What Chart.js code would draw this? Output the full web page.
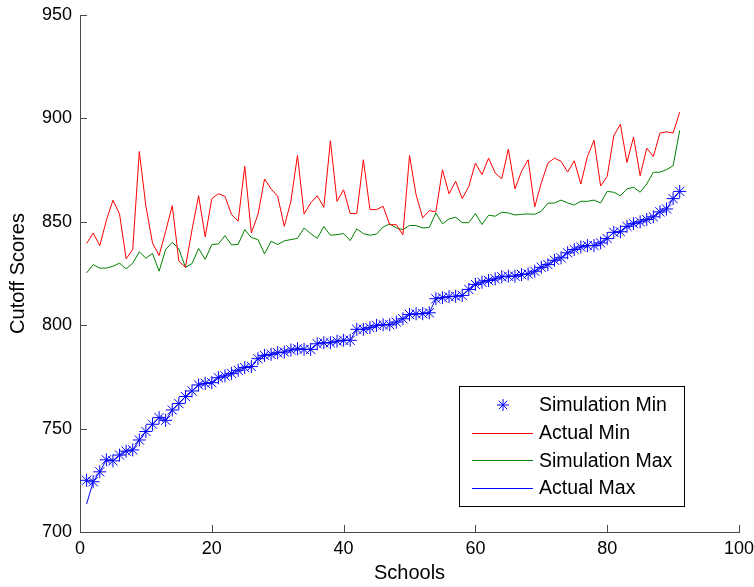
<!DOCTYPE html>
<html>
<head>
<meta charset="utf-8">
<script src="https://cdn.jsdelivr.net/npm/chart.js@4/dist/chart.umd.min.js"></script>
<style>
  html, body { margin: 0; padding: 0; background: #fff; }
  #wrap { width: 754px; height: 587px; }
</style>
</head>
<body>
<div id="wrap"><canvas id="c" width="754" height="587"></canvas></div>
<script>
// ---- data ----
const schools = [1,2,3,4,5,6,7,8,9,10,11,12,13,14,15,16,17,18,19,20,21,22,23,24,25,26,27,28,29,30,
  31,32,33,34,35,36,37,38,39,40,41,42,43,44,45,46,47,48,49,50,51,52,53,54,55,56,57,58,59,60,
  61,62,63,64,65,66,67,68,69,70,71,72,73,74,75,76,77,78,79,80,81,82,83,84,85,86,87,88,89,90,91];

const simulationMin = [725,724.3,729.1,734.9,734.4,737.2,739.1,739.7,744.5,748.6,752.1,755.3,754,759,762.1,
  765.5,768.2,771.1,771.9,772.2,774.6,775.5,776.7,778.2,779.5,780,783.8,785.4,785.9,786.7,
  787,788,788.6,788.3,788.3,791,791.5,791.5,792.3,792.7,792.7,798,798,798.8,799.9,
  800.2,800.2,801.5,803.1,805.2,805.5,805.6,806,812.8,813.3,813.8,814,814.4,817.3,819.7,
  820.8,821.6,822.4,823.4,823.7,823.7,824.5,824.8,826.1,828,829.3,831.4,832.6,835,836.6,
  837.8,838.5,838.5,839.8,841.9,844.9,845.2,847.8,849.1,850,851.1,852.4,854.8,856.2,861.2,864.7];

const actualMin = [839.5,844.6,838.5,850.7,860.4,853.8,832.1,836.6,884,857.5,839.8,833.7,845.4,857.8,831,
  828,846.2,862.6,842.7,861.2,863.6,862.3,853.5,850.3,876.8,844.6,853.5,870.7,865.9,862.3,
  847.8,859.9,882.1,853.8,859.1,862.6,857,889.2,859.9,865.5,854,854,880,855.9,855.9,
  857.5,848.6,848.6,843.7,882,863.1,851.9,855.4,854.8,875.2,863.5,869.6,861.2,867.1,878.4,
  872.8,880.8,873.6,870.8,885.2,865.9,874.4,880,857.2,868.8,878.4,880.8,879.2,874.1,879.5,
  868.3,881.6,889.4,867.3,872,891.6,897.2,878.7,891,872.3,885.6,881.6,892.9,893.5,892.9,903];

const simulationMax = [825.3,829.3,827.6,827.6,828.5,830,827.2,830,835.5,832.4,834.7,826.1,836.6,840.1,836.9,
  828,829.8,837.1,831.8,839,839.3,843.3,838.8,839.1,846.2,842.4,841.4,834.5,840.6,839,
  840.8,841.4,842,847,844.3,842,847.7,843.5,843.8,844.3,840.9,846.6,844.3,843.5,844.1,
  847.5,849,847,846.2,848.2,848.2,847,847.3,854.3,849,851.4,852.2,849.6,849.6,854,
  848.7,853.2,852.7,854.6,854.3,853.3,853.6,853.8,853.6,855.1,859,859.1,860.5,859.1,858.1,
  859.9,859.9,860.5,859.1,864.7,864.3,862.6,865.9,866.7,864.3,868.3,873.9,874,875.2,877.1,894.2];

const actualMax = [713.5,724.3,729.1,734.9,734.4,737.2,739.1,739.7,744.5,748.6,752.1,755.3,754,759,762.1,
  765.5,768.2,771.1,771.9,772.2,774.6,775.5,776.7,778.2,779.5,780,783.8,785.4,785.9,786.7,
  787,788,788.6,788.3,788.3,791,791.5,791.5,792.3,792.7,792.7,798,798,798.8,799.9,
  800.2,800.2,801.5,803.1,805.2,805.5,805.6,806,812.8,813.3,813.8,814,814.4,817.3,819.7,
  820.8,821.6,822.4,823.4,823.7,823.7,824.5,824.8,826.1,828,829.3,831.4,832.6,835,836.6,
  837.8,838.5,838.5,839.8,841.9,844.9,845.2,847.8,849.1,850,851.1,852.4,854.8,856.2,861.2,864.7];

const seriesNames = ['Simulation Min', 'Actual Min', 'Simulation Max', 'Actual Max'];
const xTitle = 'Schools';
const yTitle = 'Cutoff Scores';
const xMin = 0, xMax = 100, xStep = 20;
const yMin = 700, yMax = 950, yStep = 50;

// ---- helpers ----
const pts = (ys) => schools.map((x, i) => ({ x: x, y: ys[i] }));
const FONT = '"Liberation Sans", Arial, sans-serif';
const BLUE = '#0000ff', RED = '#ff0000', GREEN = '#008000';
const AXIS = '#4a4a4a';

// inward tick marks
const innerTicks = {
  id: 'innerTicks',
  afterDraw(chart) {
    const ctx = chart.ctx, a = chart.chartArea;
    const xs = chart.scales.x, ys = chart.scales.y;
    ctx.save();
    ctx.strokeStyle = AXIS;
    ctx.lineWidth = 1;
    ctx.beginPath();
    xs.ticks.forEach(t => {
      const px = Math.round(xs.getPixelForValue(t.value)) + 0.5;
      ctx.moveTo(px, a.bottom);
      ctx.lineTo(px, a.bottom - 7);
    });
    ys.ticks.forEach(t => {
      const py = Math.round(ys.getPixelForValue(t.value)) + 0.5;
      ctx.moveTo(a.left, py);
      ctx.lineTo(a.left + 7, py);
    });
    ctx.stroke();
    ctx.restore();
  }
};

// boxed legend inside the plot, bottom right
const boxLegend = {
  id: 'boxLegend',
  afterDraw(chart) {
    const ctx = chart.ctx, a = chart.chartArea;
    const w = 225, h = 120;
    const x0 = a.right - 55 - w, y0 = a.bottom - 26 - h;
    ctx.save();
    ctx.fillStyle = '#fff';
    ctx.fillRect(x0, y0, w, h);
    ctx.strokeStyle = '#000';
    ctx.lineWidth = 1;
    ctx.strokeRect(Math.round(x0) + 0.5, Math.round(y0) + 0.5, w, h);
    ctx.font = '19.5px ' + FONT;
    ctx.textBaseline = 'middle';
    ctx.textAlign = 'left';
    chart.data.datasets.forEach((ds, i) => {
      const cy = y0 + 19 + i * 27.6;
      if (ds.showLine === false) {
        const r = 6, cx = x0 + 44;
        ctx.strokeStyle = ds.pointBorderColor;
        ctx.lineWidth = 1;
        ctx.beginPath();
        for (let k = 0; k < 4; k++) {
          const ang = k * Math.PI / 4;
          ctx.moveTo(cx - r * Math.cos(ang), cy - r * Math.sin(ang));
          ctx.lineTo(cx + r * Math.cos(ang), cy + r * Math.sin(ang));
        }
        ctx.stroke();
      } else {
        ctx.strokeStyle = ds.borderColor;
        ctx.lineWidth = 1;
        ctx.beginPath();
        ctx.moveTo(x0 + 13, Math.round(cy) + 0.5);
        ctx.lineTo(x0 + 74, Math.round(cy) + 0.5);
        ctx.stroke();
      }
      ctx.fillStyle = '#000';
      ctx.fillText(ds.label, x0 + 80, cy + 1);
    });
    ctx.restore();
  }
};

new Chart(document.getElementById('c'), {
  type: 'scatter',
  data: {
    datasets: [
      { label: seriesNames[0], data: pts(simulationMin), showLine: false,
        pointStyle: 'star', pointRadius: 6.5, pointBorderWidth: 1,
        pointBorderColor: BLUE, pointBackgroundColor: BLUE, borderColor: BLUE },
      { label: seriesNames[1], data: pts(actualMin), showLine: true, borderColor: RED,
        borderWidth: 1, pointRadius: 0, tension: 0 },
      { label: seriesNames[2], data: pts(simulationMax), showLine: true, borderColor: GREEN,
        borderWidth: 1, pointRadius: 0, tension: 0 },
      { label: seriesNames[3], data: pts(actualMax), showLine: true, borderColor: BLUE,
        borderWidth: 1, pointRadius: 0, tension: 0 }
    ]
  },
  options: {
    responsive: false,
    animation: false,
    devicePixelRatio: 1,
    layout: { padding: { left: 0, right: 15, top: 15, bottom: 0 } },
    plugins: { legend: { display: false }, tooltip: { enabled: false } },
    scales: {
      x: {
        type: 'linear', min: xMin, max: xMax,
        ticks: { stepSize: xStep, color: '#000', padding: 6, font: { family: FONT, size: 18 } },
        grid: { drawOnChartArea: false, drawTicks: false },
        border: { display: true, color: AXIS, width: 1 },
        title: { display: true, text: xTitle, color: '#000', font: { family: FONT, size: 20 }, padding: { top: 0, bottom: 2 } },
        afterFit: (s) => { s.height = 55; s.paddingRight = 0; s.paddingLeft = 0; }
      },
      y: {
        type: 'linear', min: yMin, max: yMax,
        ticks: { stepSize: yStep, color: '#000', padding: 8, font: { family: FONT, size: 18 } },
        grid: { drawOnChartArea: false, drawTicks: false },
        border: { display: true, color: AXIS, width: 1 },
        title: { display: true, text: yTitle, color: '#000', font: { family: FONT, size: 20 }, padding: { top: 6, bottom: 0 } },
        afterFit: (s) => { s.width = 80; s.paddingTop = 0; s.paddingBottom = 0; }
      }
    }
  },
  plugins: [innerTicks, boxLegend]
});
</script>
</body>
</html>
